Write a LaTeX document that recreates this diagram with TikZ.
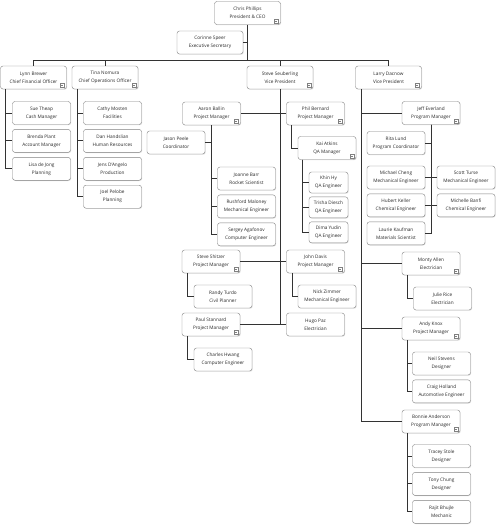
\documentclass[tikz,border=0pt]{standalone}
\usepackage{fontspec}
\setmainfont{Open Sans}
\usetikzlibrary{positioning,shadows}
\definecolor{ocline}{HTML}{333333}
\definecolor{ocedge}{HTML}{808080}
\definecolor{octext}{HTML}{2A2A2A}
\tikzset{
  card/.style={draw=ocedge,fill=white,rounded corners=2.5pt,align=center,
               minimum width=58pt,minimum height=23pt,inner sep=0pt,text=octext,
               font=\fontsize{4.7}{8}\selectfont,
               drop shadow={opacity=.25,shadow xshift=.7pt,shadow yshift=-.7pt}},
  wide/.style={card,minimum width=66pt},
  tiny/.style={card,minimum width=39pt,minimum height=21pt},
  link/.style={draw=ocline,line width=1pt},
  fold/.style={draw=ocedge,line width=.4pt,fill=white},
}
\newcommand{\foldmark}[1]{%
  \draw[fold] ([shift={(-6.5pt,2pt)}]#1.south east) rectangle ++(4pt,4pt);
  \draw[draw=ocedge,line width=.4pt] ([shift={(-5.6pt,4pt)}]#1.south east) -- ++(2.2pt,0pt);}

\begin{document}
\begin{tikzpicture}[x=1pt,y=-1pt,node distance=4.5pt]
    \useasboundingbox (0,0) rectangle (496,525);
    % top of the chart
    \node[wide] (chris) at (247.5,13) {Chris Phillips\\President \& CEO};
    \node[wide] (corinne) at (210,42.5) {Corinne Speer\\Executive Secretary};
    \node[wide] (lynn) at (33.5,77.5) {Lynn Brewer\\Chief Financial Officer};
    \node[wide] (tina) at (105,77.5) {Tina Nomura\\Chief Operations Officer};
    \node[wide] (steve) at (280,77.5) {Steve Seuberling\\Vice President};
    \node[wide] (larry) at (388.5,77.5) {Larry Dacnow\\Vice President};
    % finance
    \node[card] (sue) at (41.5,113) {Sue Theap\\Cash Manager};
    \node[card,below=of sue] (brenda) {Brenda Plant\\Account Manager};
    \node[card,below=of brenda] (lisa) {Lisa de Jong\\Planning};
    % operations
    \node[card] (cathy) at (112.5,113) {Cathy Mosten\\Facilities};
    \node[card,below=of cathy] (dan) {Dan Handslian\\Human Resources};
    \node[card,below=of dan] (jens) {Jens D'Angelo\\Production};
    \node[card,below=of jens] (joel) {Joel Pelobe\\Planning};
    % Steve's projects
    \node[card] (aaron) at (211.5,113.5) {Aaron Ballin\\Project Manager};
    \node[card] (jason) at (176,142.5) {Jason Peele\\Coordinator};
    \node[card] (joanne) at (246.5,178.5) {Joanne Barr\\Rocket Scientist};
    \node[card,below=of joanne] (rushford) {Rushford Maloney\\Mechanical Engineer};
    \node[card,below=of rushford] (sergey) {Sergey Agafonov\\Computer Engineer};
    \node[card] (phil) at (315.5,113.5) {Phil Bernard\\Project Manager};
    \node[card] (kai) at (327,148) {Kai Atkins\\QA Manager};
    \node[tiny] (khin) at (328.5,182.5) {Khin Hy\\QA Engineer};
    \node[tiny,below=3.5pt of khin] (trisha) {Trisha Diesch\\QA Engineer};
    \node[tiny,below=3.5pt of trisha] (dima) {Dima Yudin\\QA Engineer};
    \node[card] (shitzer) at (211,261.5) {Steve Shitzer\\Project Manager};
    \node[card] (randy) at (223,296.5) {Randy Turdo\\Civil Planner};
    \node[card] (john) at (315.5,261.5) {John Davis\\Project Manager};
    \node[card] (nick) at (327,296.5) {Nick Zimmer\\Mechanical Engineer};
    \node[card] (paul) at (211,324.5) {Paul Stannard\\Project Manager};
    \node[card] (charles) at (223,359.5) {Charles Hwang\\Computer Engineer};
    \node[card] (hugo) at (315.5,324.5) {Hugo Paz\\Electrician};
    % Larry's programs
    \node[card] (jeff) at (431,113) {Jeff Everland\\Program Manager};
    \node[card] (rita) at (396,143) {Rita Lund\\Program Coordinator};
    \node[card] (michael) at (396,177.5) {Michael Cheng\\Mechanical Engineer};
    \node[card,below=of michael] (hubert) {Hubert Keller\\Chemical Engineer};
    \node[card,below=of hubert] (laurie) {Laurie Kaufman\\Materials Scientist};
    \node[card] (scott) at (466,177.5) {Scott Turse\\Mechanical Engineer};
    \node[card,below=of scott] (michelle) {Michelle Banfi\\Chemical Engineer};
    \node[card] (monty) at (431,263.5) {Monty Allen\\Electrician};
    \node[card] (julie) at (442.5,298.5) {Julie Rice\\Electrician};
    \node[card] (andy) at (431,328.5) {Andy Knox\\Project Manager};
    \node[card] (neil) at (441.5,363.5) {Neil Stevens\\Designer};
    \node[card,below=of neil] (craig) {Craig Holland\\Automotive Engineer};
    \node[card] (bonnie) at (431,421.5) {Bonnie Anderson\\Program Manager};
    \node[card] (tracey) at (441.5,456) {Tracey Stole\\Designer};
    \node[card,below=of tracey] (tony) {Tony Chung\\Designer};
    \node[card,below=of tony] (rajit) {Rajit Bhujle\\Mechanic};

    % connectors
    \coordinate (bus) at (chris.south |- 0,60);
    \draw[link] (chris.south) -- (bus);
    \draw[link] (corinne.east) -- (corinne.east -| chris.south);
    \foreach \n in {lynn,tina,steve,larry}{\draw[link] (bus) -| (\n.north);}
    \foreach \n in {sue,brenda,lisa}{\draw[link] ([xshift=5.5pt]lynn.south west) |- (\n.west);}
    \foreach \n in {cathy,dan,jens,joel}{\draw[link] ([xshift=6pt]tina.south west) |- (\n.west);}
    \foreach \n in {aaron,shitzer,paul}{\draw[link] (steve.south) |- (\n.east);}
    \foreach \n in {phil,john,hugo}{\draw[link] (steve.south) |- (\n.west);}
    \draw[link] (aaron.south) |- (jason.east);
    \foreach \n in {joanne,rushford,sergey}{\draw[link] (aaron.south) |- (\n.west);}
    \draw[link] ([xshift=5.5pt]phil.south west) |- (kai.west);
    \foreach \n in {khin,trisha,dima}{\draw[link] ([xshift=5pt]kai.south west) |- (\n.west);}
    \foreach \p/\c in {shitzer/randy,john/nick,paul/charles,monty/julie,andy/neil,andy/craig,bonnie/tracey,bonnie/tony,bonnie/rajit}
      {\draw[link] ([xshift=6pt]\p.south west) |- (\c.west);}
    \foreach \n in {jeff,monty,andy,bonnie}{\draw[link] ([xshift=6.5pt]larry.south west) |- (\n.west);}
    \foreach \n in {rita,michael,hubert,laurie}{\draw[link] (jeff.south) |- (\n.east);}
    \foreach \n in {scott,michelle}{\draw[link] (jeff.south) |- (\n.west);}

    % collapse marks
    \foreach \n in {chris,lynn,tina,steve,larry,aaron,phil,kai,shitzer,john,paul,jeff,monty,andy,bonnie}
      {\foldmark{\n}}
\end{tikzpicture}
\end{document}
